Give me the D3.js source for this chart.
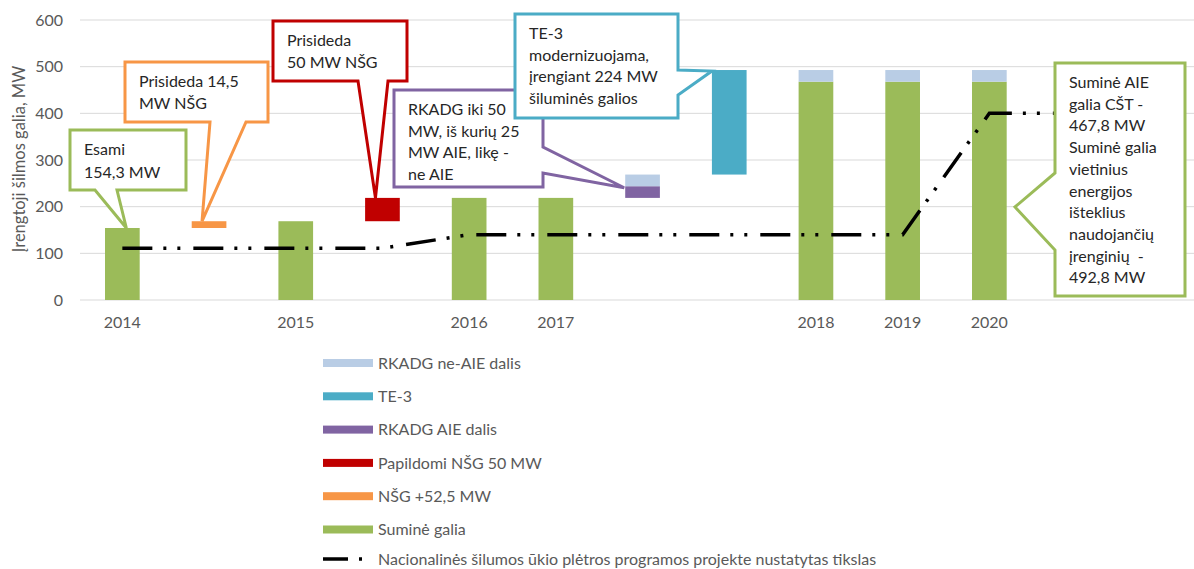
<!DOCTYPE html>
<html><head><meta charset="utf-8">
<script src="https://cdn.jsdelivr.net/npm/d3@7"></script>
<style>
html,body{margin:0;padding:0;background:#fff;}
svg{display:block;font-family:Lato,"Open Sans",sans-serif;}
</style></head>
<body><svg id="chart" width="1194" height="569"></svg>
<script>
// ---- DATA ----
const categories = ["2014","","2015","","2016","2017","","","2018","2019","2020","",""];
const baseHidden = [0,154.3,0,168.8,0,0,218.8,268.8,0,0,0,0,0];
const sumineGalia = [154.3,0,168.8,0,218.8,218.8,0,0,467.8,467.8,467.8,0,0];
const nsg525 = [0,14.5,0,0,0,0,0,0,0,0,0,0,0];
const papildomiNsg50 = [0,0,0,50,0,0,0,0,0,0,0,0,0];
const rkadgAIE = [0,0,0,0,0,0,25,0,0,0,0,0,0];
const rkadgNeAIE = [0,0,0,0,0,0,25,0,25,25,25,0,0];
const te3 = [0,0,0,0,0,0,0,224,0,0,0,0,0];
const targetLine = [111,111,111,111,140,140,140,140,140,140,400,400,null];
const yTicks = [0,100,200,300,400,500,600];
const seriesKeys = ["base","sumine","nsg","papildomi","aie","neaie","te3"];
const seriesNames = {sumine:"Suminė galia", nsg:"NŠG +52,5 MW", papildomi:"Papildomi NŠG 50 MW", aie:"RKADG AIE dalis", neaie:"RKADG ne-AIE dalis", te3:"TE-3"};
const seriesColors = {sumine:"#9bbb59", nsg:"#f79646", papildomi:"#c00000", aie:"#8064a2", neaie:"#b9cde5", te3:"#4bacc6"};
const legendOrder = ["neaie","te3","aie","papildomi","nsg","sumine"];
const lineName = "Nacionalinės šilumos ūkio plėtros programos projekte nustatytas tikslas";
const yTitle = "Įrengtoji šilmos galia, MW";

const rows = categories.map((c,i)=>({i, base:baseHidden[i], sumine:sumineGalia[i], nsg:nsg525[i], papildomi:papildomiNsg50[i], aie:rkadgAIE[i], neaie:rkadgNeAIE[i], te3:te3[i]}));

// ---- SCALES ----
const svg = d3.select("#chart");
const x = d3.scaleBand().domain(d3.range(categories.length)).range([79, 79+13*86.7]).paddingInner(0.6).paddingOuter(0.3);
const y = d3.scaleLinear().domain([0,600]).range([300,20]);
const cx = i => x(i) + x.bandwidth()/2;

// grid
svg.append("g").selectAll("line").data(yTicks).join("line")
  .attr("x1",80).attr("x2",1194).attr("y1",d=>y(d)).attr("y2",d=>y(d))
  .attr("stroke","#d9d9d9").attr("stroke-width",1);

// y tick labels
svg.append("g").selectAll("text").data(yTicks).join("text")
  .attr("x",63).attr("y",d=>y(d)).attr("dy","0.35em").attr("text-anchor","end")
  .attr("font-size",16).attr("fill","#595959").text(d=>d);

// x tick labels
svg.append("g").selectAll("text").data(categories.map((c,i)=>({c,i})).filter(d=>d.c)).join("text")
  .attr("x",d=>cx(d.i)).attr("y",328).attr("text-anchor","middle")
  .attr("font-size",16).attr("fill","#595959").text(d=>d.c);

// y title
svg.append("text").attr("transform","translate(25,159) rotate(-90)").attr("text-anchor","middle")
  .attr("font-size",16.5).attr("fill","#595959").text(yTitle);

// bars
const stacked = d3.stack().keys(seriesKeys)(rows);
stacked.filter(s=>s.key!=="base").forEach(s=>{
  svg.append("g").attr("fill",seriesColors[s.key]).selectAll("rect")
    .data(s.filter(d=>d[1]-d[0]>0)).join("rect")
    .attr("x",d=>x(d.data.i)).attr("width",x.bandwidth())
    .attr("y",d=>y(d[1])).attr("height",d=>y(d[0])-y(d[1]));
});

// target line
const dash = "30,11,3,11,3,13";
const line = d3.line().defined(d=>d.v!=null).x(d=>cx(d.i)).y(d=>y(d.v));
svg.append("path").datum(targetLine.map((v,i)=>({v,i})))
  .attr("d",line).attr("fill","none").attr("stroke","#000").attr("stroke-width",3.5)
  .attr("stroke-dasharray",dash);

// callouts
function calloutPath(b, side, p1, p2, tip){
  const x0=b.x, y0=b.y, x1=b.x+b.w, y1=b.y+b.h;
  let pts;
  if(side==="bottom") pts=[[x0,y0],[x1,y0],[x1,y1],[p2,y1],tip,[p1,y1],[x0,y1]];
  else if(side==="right") pts=[[x0,y0],[x1,y0],[x1,p1],tip,[x1,p2],[x1,y1],[x0,y1]];
  else if(side==="left") pts=[[x0,y0],[x1,y0],[x1,y1],[x0,y1],[x0,p2],tip,[x0,p1]];
  return "M"+pts.map(p=>p.join(",")).join("L")+"Z";
}
const callouts = [
  {color:"#9bbb59", box:{x:70,y:130,w:116,h:60}, side:"bottom", p1:95, p2:117, tip:[cx(0)+4, y(sumineGalia[0])], lines:["Esami","154,3 MW"], lh:23},
  {color:"#f79646", box:{x:125,y:62,w:143,h:60}, side:"bottom", p1:210, p2:246, tip:[cx(1)-7, y(baseHidden[1]+nsg525[1])], lines:["Prisideda 14,5","MW NŠG"], lh:21.7},
  {color:"#c00000", box:{x:273,y:21,w:134,h:60}, side:"bottom", p1:358, p2:388, tip:[cx(3)-7, y(baseHidden[3]+papildomiNsg50[3])], lines:["Prisideda","50 MW NŠG"], lh:21.7},
  {color:"#8064a2", box:{x:394,y:90,w:149,h:97}, side:"right", p1:147, p2:173, tip:[x(6)-1, y(baseHidden[6]+rkadgAIE[6])+1.5], lines:["RKADG iki 50","MW, iš kurių 25","MW AIE, likę -","ne AIE"], lh:21.7},
  {color:"#4bacc6", box:{x:515,y:14,w:163,h:104}, side:"right", p1:70, p2:95, tip:[x(7), y(baseHidden[7]+te3[7])+1], lines:["TE-3","modernizuojama,","įrengiant 224 MW","šiluminės galios"], lh:21.7},
  {color:"#9bbb59", box:{x:1055,y:63,w:130,h:233}, side:"left", p1:173, p2:250, tip:[1015, 207], lines:["Suminė AIE","galia CŠT -","467,8 MW","Suminė galia","vietinius","energijos","išteklius","naudojančių","įrenginių  -","492,8 MW"], lh:21.7}
];
callouts.forEach(c=>{
  svg.append("path").attr("d",calloutPath(c.box,c.side,c.p1,c.p2,c.tip))
    .attr("fill","#fff").attr("stroke",c.color).attr("stroke-width",3).attr("stroke-linejoin","miter");
  const t = svg.append("text").attr("font-size",16).attr("fill","#262626").attr("xml:space","preserve");
  c.lines.forEach((l,k)=>{
    t.append("tspan").attr("x",c.box.x+14).attr("y",c.box.y+25+k*c.lh).text(l);
  });
});

// legend
const lg = svg.append("g");
legendOrder.forEach((k,j)=>{
  const yy = 363 + j*33.3;
  lg.append("rect").attr("x",323).attr("y",yy-4).attr("width",50).attr("height",8).attr("fill",seriesColors[k]);
  lg.append("text").attr("x",378).attr("y",yy).attr("dy","0.35em").attr("font-size",16).attr("fill","#595959").text(seriesNames[k]);
});
const ly = 559;
lg.append("line").attr("x1",323).attr("x2",373).attr("y1",ly).attr("y2",ly)
  .attr("stroke","#000").attr("stroke-width",3.5).attr("stroke-dasharray",dash).attr("stroke-dashoffset",5);
lg.append("text").attr("x",378).attr("y",ly).attr("dy","0.35em").attr("font-size",16).attr("fill","#595959").text(lineName);
</script></body></html>
